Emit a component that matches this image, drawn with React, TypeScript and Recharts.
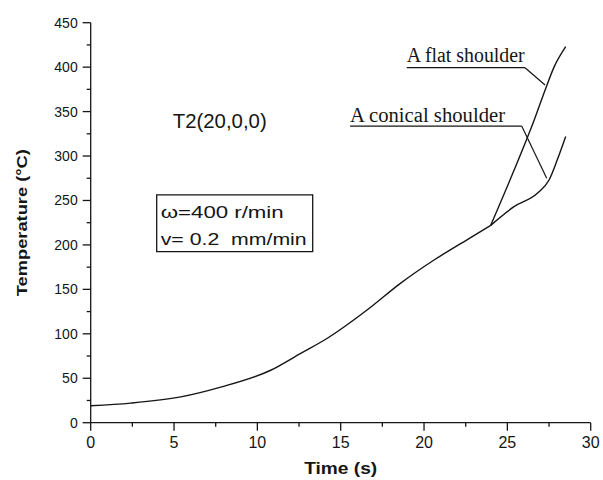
import React from 'react';
import {
  LineChart,
  Line,
  XAxis,
  YAxis,
  ReferenceLine,
  ReferenceArea,
  ReferenceDot,
} from 'recharts';

// Shared part of the curve (both shoulders coincide)
const baseTime = [0, 2.4, 5.4, 7.8, 10.8, 12.6, 14.2, 16.6, 18.6, 20.6, 22.6, 24];
const baseTemp = [19, 22, 29, 40, 59, 78, 95, 127, 157, 183, 206, 222];

// Flat shoulder branch
const flatTime = [24, 25.4, 26.6, 27.3, 27.8, 28.5];
const flatTemp = [222, 284, 340, 376, 400, 423];

// Conical shoulder branch
const conicalTime = [24, 25.4, 26.8, 27.5, 28, 28.5];
const conicalTemp = [222, 243, 258, 273, 296, 322];

const xTicks = [0, 2.5, 5, 7.5, 10, 12.5, 15, 17.5, 20, 22.5, 25, 27.5, 30];
const xMajor = [0, 5, 10, 15, 20, 25, 30];
const yTicks = [0, 25, 50, 75, 100, 125, 150, 175, 200, 225, 250, 275, 300, 325, 350, 375, 400, 425, 450];
const yMajor = [0, 50, 100, 150, 200, 250, 300, 350, 400, 450];

const zip = (ts: number[], vs: number[]) => ts.map((t, i) => ({ t, T: vs[i] }));
const baseData = zip(baseTime, baseTemp);
const flatData = zip(flatTime, flatTemp);
const conicalData = zip(conicalTime, conicalTemp);

const SANS = '"Liberation Sans", Arial, sans-serif';
const SERIF = '"Liberation Serif", "Times New Roman", serif';
const INK = '#151515';

const XTick = (props: any) => {
  const { x, y, payload } = props;
  const v = payload.value;
  const major = xMajor.includes(v);
  return (
    <g>
      <line x1={x} x2={x} y1={y} y2={y + (major ? 8 : 4)} stroke={INK} strokeWidth={1.3} />
      {major && (
        <text x={x} y={y + 25} textAnchor="middle" fontSize={16} fill={INK} fontFamily={SANS}>
          {v}
        </text>
      )}
    </g>
  );
};

const YTick = (props: any) => {
  const { x, y, payload } = props;
  const v = payload.value;
  const major = yMajor.includes(v);
  return (
    <g>
      <line x1={x} x2={x - (major ? 8 : 4)} y1={y} y2={y} stroke={INK} strokeWidth={1.3} />
      {major && (
        <text x={x - 13} y={y + 5} textAnchor="end" fontSize={14} fill={INK} fontFamily={SANS}>
          {v}
        </text>
      )}
    </g>
  );
};

const XTitle = (props: any) => {
  const vb = props.viewBox || {};
  return (
    <text
      x={vb.x + vb.width / 2}
      y={vb.y + 51.5}
      textAnchor="middle"
      fontSize={16}
      fontWeight="bold"
      fill={INK}
      fontFamily={SANS}
      textLength={73}
      lengthAdjust="spacingAndGlyphs"
    >
      Time (s)
    </text>
  );
};

const YTitle = (props: any) => {
  const vb = props.viewBox || {};
  const cx = vb.x + 27;
  const cy = vb.y + vb.height / 2;
  return (
    <text
      x={cx}
      y={cy}
      transform={`rotate(-90 ${cx} ${cy})`}
      textAnchor="middle"
      fontSize={15}
      fontWeight="bold"
      fill={INK}
      fontFamily={SANS}
      textLength={147}
      lengthAdjust="spacingAndGlyphs"
    >
      Temperature (°C)
    </text>
  );
};

const makeText = (
  text: string,
  size: number,
  family: string,
  length: number
) => (p: any) => (
  <text
    x={p.cx}
    y={p.cy}
    fontSize={size}
    fill={INK}
    fontFamily={family}
    textLength={length}
    lengthAdjust="spacingAndGlyphs"
    style={{ whiteSpace: 'pre' }}
  >
    {text}
  </text>
);

export default function App() {
  return (
    <div style={{ position: 'absolute', left: 0, top: 0, width: 603, height: 480, background: '#fff' }}>
      <LineChart
        width={603}
        height={480}
        margin={{ top: 22.7, right: 12.3, bottom: 0, left: 0 }}
      >
        <XAxis
          dataKey="t"
          type="number"
          domain={[0, 30]}
          ticks={xTicks}
          interval={0}
          tickSize={0}
          tickMargin={0}
          tickLine={false}
          axisLine={{ stroke: INK, strokeWidth: 1.3 }}
          tick={<XTick />}
          height={57.3}
          allowDuplicatedCategory={false}
          label={{ content: XTitle } as any}
        />
        <YAxis
          type="number"
          domain={[0, 450]}
          ticks={yTicks}
          interval={0}
          tickSize={0}
          tickMargin={0}
          tickLine={false}
          axisLine={{ stroke: INK, strokeWidth: 1.3 }}
          tick={<YTick />}
          width={90.7}
          label={{ content: YTitle } as any}
        />
        <Line data={baseData} dataKey="T" type="monotone" stroke={INK} strokeWidth={1.4} dot={false} isAnimationActive={false} />
        <Line data={flatData} dataKey="T" type="monotone" stroke={INK} strokeWidth={1.4} dot={false} isAnimationActive={false} />
        <Line data={conicalData} dataKey="T" type="monotone" stroke={INK} strokeWidth={1.4} dot={false} isAnimationActive={false} />

        {/* parameter box */}
        <ReferenceArea x1={3.96} x2={13.32} y1={192.4} y2={256.2} fill="none" fillOpacity={0} stroke={INK} strokeWidth={1.3} />
        <ReferenceDot x={4.2} y={230.3} shape={makeText('ω=400 r/min', 17, SANS, 123)} />
        <ReferenceDot x={4.2} y={199.9} shape={makeText('v= 0.2  mm/min', 17, SANS, 146)} />

        {/* probe location */}
        <ReferenceDot x={4.92} y={331.2} shape={makeText('T2(20,0,0)', 21, SANS, 94)} />

        {/* flat shoulder annotation */}
        <ReferenceDot x={18.96} y={406.1} shape={makeText('A flat shoulder', 20, SERIF, 118)} />
        <ReferenceLine segment={[{ x: 18.96, y: 399.4 }, { x: 26.06, y: 399.4 }]} stroke={INK} strokeWidth={1.3} />
        <ReferenceLine segment={[{ x: 26.06, y: 399.4 }, { x: 27.26, y: 379.9 }]} stroke={INK} strokeWidth={1.2} />

        {/* conical shoulder annotation */}
        <ReferenceDot x={15.56} y={338.6} shape={makeText('A conical shoulder', 20, SERIF, 155)} />
        <ReferenceLine segment={[{ x: 15.56, y: 333.7 }, { x: 25.86, y: 333.7 }]} stroke={INK} strokeWidth={1.3} />
        <ReferenceLine segment={[{ x: 25.86, y: 333.7 }, { x: 27.36, y: 274.9 }]} stroke={INK} strokeWidth={1.2} />
      </LineChart>
    </div>
  );
}
